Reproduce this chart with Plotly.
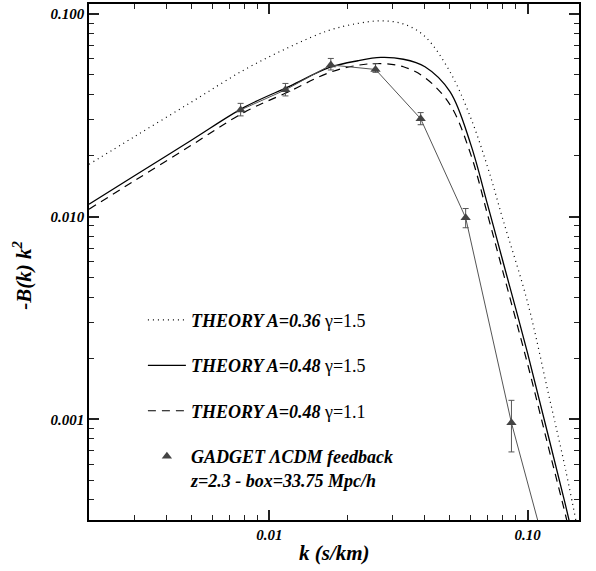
import numpy as np
import plotly.graph_objects as go

# ---------------- data ----------------
k_theory = [0.002, 0.003, 0.005, 0.008, 0.012, 0.017, 0.022, 0.027, 0.033,
            0.040, 0.050, 0.060, 0.070, 0.080, 0.100, 0.120, 0.140, 0.160]
theory_A036_g15 = [0.01811, 0.02481, 0.03682, 0.05306, 0.06883, 0.08295, 0.08982,
                   0.09238, 0.08931, 0.07737, 0.05182, 0.03099, 0.01750, 0.009766,
                   0.003757, 0.001357, 0.000568, 0.000244]
theory_A048_g15 = [0.01151, 0.01591, 0.02387, 0.03467, 0.04402, 0.05427, 0.05875,
                   0.06098, 0.05975, 0.05490, 0.04136, 0.02297, 0.01139, 0.006073,
                   0.002110, 0.000834, 0.000378, 0.000181]
theory_A048_g11 = [0.01088, 0.01503, 0.02256, 0.03277, 0.04160, 0.05129, 0.05583,
                   0.05692, 0.05490, 0.04848, 0.03571, 0.02051, 0.01017, 0.005397,
                   0.001864, 0.000737, 0.000338, 0.000162]

k_sim = [0.00773, 0.01153, 0.01728, 0.02574, 0.0385, 0.0575, 0.0865, 0.13]
v_sim = [0.0336, 0.0422, 0.0560, 0.0532, 0.0304, 0.00987, 0.00096, 0.00014]
err_plus = [0.0026, 0.0032, 0.0043, 0.0036, 0.0022, 0.00109, 0.00028, 0.00003]
err_minus = [0.0022, 0.0028, 0.0031, 0.0017, 0.0020, 0.00106, 0.00027, 0.00003]

x_tickvals = [0.01, 0.1]
x_ticktext = ["0.01", "0.10"]
y_tickvals = [0.001, 0.01, 0.1]
y_ticktext = ["0.001", "0.010", "0.100"]
x_minor = [m * 10.0 ** e for e in (-3, -2, -1) for m in range(2, 10)]
y_minor = [m * 10.0 ** e for e in (-4, -3, -2, -1) for m in range(2, 10)]

legend_names = [
    "<b><i>THEORY A=0.36</i></b> γ=1.5",
    "<b><i>THEORY A=0.48</i></b> γ=1.5",
    "<b><i>THEORY A=0.48</i></b> γ=1.1",
    "<b><i>GADGET ΛCDM feedback<br>z=2.3 - box=33.75 Mpc/h</i></b>",
]

FONT = "Liberation Serif"
X_RANGE = [np.log10(0.002), np.log10(0.158)]
Y_RANGE = [-3.497, -0.951]
TICK_COLOR = "#222222"

fig = go.Figure()

fig.add_trace(go.Scatter(x=k_theory, y=theory_A036_g15, mode="lines",
                         line=dict(color="black", width=1.2, dash="1px,4px", shape="spline", smoothing=1),
                         name=legend_names[0], legendgroup="a"))
fig.add_trace(go.Scatter(x=k_theory, y=theory_A048_g15, mode="lines",
                         line=dict(color="black", width=1.3, shape="spline", smoothing=1),
                         name=legend_names[1], legendgroup="b"))
fig.add_trace(go.Scatter(x=k_theory, y=theory_A048_g11, mode="lines",
                         line=dict(color="black", width=1.2, dash="8px,6px", shape="spline", smoothing=1),
                         name=legend_names[2], legendgroup="c"))
fig.add_trace(go.Scatter(x=k_sim, y=v_sim, mode="lines",
                         line=dict(color="#555555", width=1),
                         showlegend=False, hoverinfo="skip"))
fig.add_trace(go.Scatter(x=k_sim, y=v_sim, mode="markers",
                         marker=dict(symbol="triangle-up", size=9, color="#444444"),
                         error_y=dict(type="data", symmetric=False, array=err_plus,
                                      arrayminus=err_minus, color="#555555",
                                      thickness=1, width=3),
                         name=legend_names[3], legendgroup="d"))
# empty trace so that the overlay (minor-tick) axes exist
fig.add_trace(go.Scatter(x=[], y=[], xaxis="x2", yaxis="y2", showlegend=False,
                         hoverinfo="skip"))

tickfont = dict(family=FONT, size=15, color="black", weight="bold", style="italic")

fig.update_layout(
    xaxis=dict(type="log", range=X_RANGE, showgrid=False, zeroline=False,
               showline=True, linecolor="black", linewidth=1.5, mirror="ticks",
               ticks="inside", ticklen=10, tickwidth=1.5, tickcolor=TICK_COLOR,
               tickvals=x_tickvals, ticktext=x_ticktext, tickfont=tickfont),
    yaxis=dict(type="log", range=Y_RANGE, showgrid=False, zeroline=False,
               showline=True, linecolor="black", linewidth=1.5, mirror="ticks",
               ticks="inside", ticklen=10, tickwidth=1.5, tickcolor=TICK_COLOR,
               tickvals=y_tickvals, ticktext=y_ticktext, tickfont=tickfont),
    xaxis2=dict(type="log", range=X_RANGE, overlaying="x", anchor="y2",
                showgrid=False, zeroline=False, showline=False, mirror="ticks",
                ticks="inside", ticklen=5, tickwidth=1.3, tickcolor=TICK_COLOR,
                tickvals=x_minor, ticktext=[""] * len(x_minor), showticklabels=False),
    yaxis2=dict(type="log", range=Y_RANGE, overlaying="y", anchor="x2",
                showgrid=False, zeroline=False, showline=False, mirror="ticks",
                ticks="inside", ticklen=5, tickwidth=1.3, tickcolor=TICK_COLOR,
                tickvals=y_minor, ticktext=[""] * len(y_minor), showticklabels=False),
    width=596, height=571,
    margin=dict(l=89, r=17, t=2, b=51),
    paper_bgcolor="white", plot_bgcolor="white",
    font=dict(family=FONT, color="black"),
    showlegend=True,
    legend=dict(x=0.11, y=0.423, xanchor="left", yanchor="top",
                bgcolor="rgba(0,0,0,0)", borderwidth=0,
                font=dict(family=FONT, size=18, color="black"),
                itemwidth=38, tracegroupgap=19, valign="top",
                traceorder="grouped"),
    annotations=[
        dict(text="<b><i>k (s/km)</i></b>", xref="paper", yref="paper",
             x=0.5, y=-0.064, xanchor="center", yanchor="middle",
             showarrow=False, font=dict(family=FONT, size=21, color="black")),
        dict(text="<b><i>-B(k) k<sup>2</sup></i></b>", xref="paper", yref="paper",
             x=-0.135, y=0.475, xanchor="center", yanchor="middle", textangle=-90,
             showarrow=False, font=dict(family=FONT, size=21, color="black")),
    ],
)

fig.write_html("out.html", post_script="document.body.style.margin='0';",
               config={"displayModeBar": False})
